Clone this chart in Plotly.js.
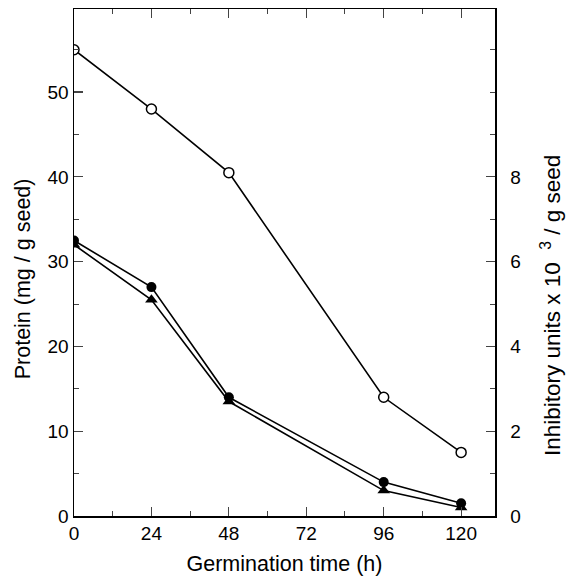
<!DOCTYPE html>
<html>
<head>
<meta charset="utf-8">
<script src="https://cdn.plot.ly/plotly-3.0.1.min.js"></script>
<style>html,body{margin:0;padding:0;background:#fff;}#chart{width:575px;height:580px;}</style>
</head>
<body>
<div id="chart"></div>
<script>
const hours = [0, 24, 48, 96, 120];
const proteinOpen = [55, 48, 40.5, 14, 7.5];          // left axis (mg / g seed)
const inhibitorCircle = [6.5, 5.4, 2.8, 0.8, 0.3];     // right axis (x10^3 / g seed)
const inhibitorTriangle = [6.4, 5.1, 2.7, 0.6, 0.2];   // right axis
const xTicks = [0, 24, 48, 72, 96, 120];
const yLeftTicks = [0, 10, 20, 30, 40, 50];
const yRightTicks = [0, 2, 4, 6, 8];
const xTitle = 'Germination time (h)';
const yLeftTitle = 'Protein (mg / g seed)';
const yRightTitle = 'Inhibitory units x 10\u00a0\u00a0<sup>3</sup> / g seed';

const lineStyle = {color: '#000', width: 1.6};
const traces = [
  {x: hours, y: inhibitorTriangle, yaxis: 'y2', mode: 'lines+markers', line: lineStyle,
   marker: {symbol: 'triangle-up', size: 11, color: '#000'}},
  {x: hours, y: inhibitorCircle, yaxis: 'y2', mode: 'lines+markers', line: lineStyle,
   marker: {symbol: 'circle', size: 10, color: '#000'}},
  {x: hours, y: proteinOpen, mode: 'lines+markers', line: lineStyle,
   marker: {symbol: 'circle', size: 10, color: '#fff', line: {color: '#000', width: 1.5}}}
];

const fam = 'Liberation Sans, Arial, sans-serif';
const layout = {
  width: 575, height: 580,
  margin: {l: 74, r: 80, t: 9, b: 64},
  showlegend: false,
  paper_bgcolor: '#fff', plot_bgcolor: '#fff',
  font: {family: fam, size: 19, color: '#000'},
  xaxis: {
    range: [0, 130.5], tickvals: xTicks, ticks: 'inside', ticklen: 9, tickwidth: 1.2,
    showline: true, linewidth: 1.5, linecolor: '#000', mirror: 'ticks',
    showgrid: false, zeroline: false,
    minor: {tickmode: 'linear', tick0: 0, dtick: 12, ticks: 'inside', ticklen: 5, tickwidth: 1},
    title: {text: xTitle, font: {size: 21.5}, standoff: 12}
  },
  yaxis: {
    range: [0, 59.8], tickvals: yLeftTicks, ticks: 'inside', ticklen: 9, tickwidth: 1.2,
    showline: true, linewidth: 1.5, linecolor: '#000',
    showgrid: false, zeroline: false, ticklabelstandoff: 0,
    minor: {tickmode: 'linear', tick0: 0, dtick: 5, ticks: 'inside', ticklen: 5, tickwidth: 1}
  },
  yaxis2: {
    range: [0, 11.96], overlaying: 'y', side: 'right', tickvals: yRightTicks,
    ticks: 'inside', ticklen: 9, tickwidth: 1.2,
    showline: true, linewidth: 1.5, linecolor: '#000',
    showgrid: false, zeroline: false, ticklabelstandoff: 10,
    minor: {tickmode: 'linear', tick0: 0, dtick: 1, ticks: 'inside', ticklen: 5, tickwidth: 1}
  },
  annotations: [
    {text: yLeftTitle, xref: 'paper', yref: 'paper', x: -0.121, y: 0.467,
     xanchor: 'center', yanchor: 'middle', textangle: -90, showarrow: false,
     font: {family: fam, size: 21.5, color: '#000'}},
    {text: yRightTitle, xref: 'paper', yref: 'paper', x: 1.133, y: 0.416,
     xanchor: 'center', yanchor: 'middle', textangle: -90, showarrow: false,
     font: {family: fam, size: 22.5, color: '#000'}}
  ]
};
Plotly.newPlot('chart', traces, layout, {staticPlot: true, displayModeBar: false});
</script>
</body>
</html>
